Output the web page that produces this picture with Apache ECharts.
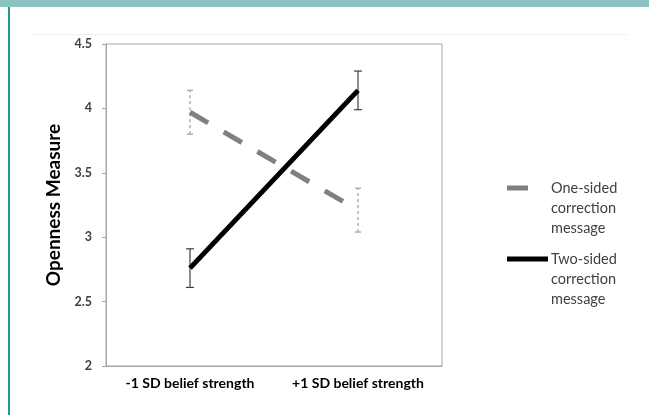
<!DOCTYPE html>
<html>
<head>
<meta charset="utf-8">
<script src="https://cdn.jsdelivr.net/npm/echarts@6/dist/echarts.min.js"></script>
<style>
  html, body { margin: 0; padding: 0; background: #fff; }
  #chart { width: 649px; height: 415px; }
</style>
</head>
<body>
<div id="chart"></div>
<script>
// 数据
const categories = ['-1 SD belief strength', '+1 SD belief strength'];
const yTicks = [2, 2.5, 3, 3.5, 4, 4.5];
const seriesNames = ['One-sided\ncorrection\nmessage', 'Two-sided\ncorrection\nmessage'];
const oneSided = [3.97, 3.21];
const oneSidedErr = [0.17, 0.17];
const twoSided = [2.76, 4.14];
const twoSidedErr = [0.15, 0.15];

const FONT = 'Lato, "Liberation Sans", sans-serif';
const GRAY = '#808080';
const DASH = [21, 18];

// 误差线 (custom series)
const errorBars = (vals, errs, color, width, dash, cap) => ({
  type: 'custom',
  silent: true,
  z: 1,
  data: vals.map((v, i) => [i, v - errs[i], v + errs[i]]),
  renderItem: (params, api) => {
    const lo = api.coord([api.value(0), api.value(1)]);
    const hi = api.coord([api.value(0), api.value(2)]);
    const style = { stroke: color, lineWidth: width, lineDash: dash };
    return {
      type: 'group',
      children: [
        { type: 'line', shape: { x1: lo[0], y1: lo[1], x2: hi[0], y2: hi[1] }, style },
        { type: 'line', shape: { x1: hi[0] - cap, y1: hi[1], x2: hi[0] + cap, y2: hi[1] }, style: { stroke: color, lineWidth: width } },
        { type: 'line', shape: { x1: lo[0] - cap, y1: lo[1], x2: lo[0] + cap, y2: lo[1] }, style: { stroke: color, lineWidth: width } },
      ],
    };
  },
});

// 图例 (graphic)
const legendItem = (y, text, color, len) => ([
  { type: 'line', shape: { x1: 507, y1: y, x2: 507 + len, y2: y }, style: { stroke: color, lineWidth: 5 } },
  {
    type: 'text', x: 551, y: y - 10,
    style: { text, fill: '#404040', font: '14.5px ' + FONT, lineHeight: 20, verticalAlign: 'top' },
  },
]);

const myChart = echarts.init(document.getElementById('chart'));

const option = {
  animation: false,
  textStyle: { fontFamily: FONT },
  graphic: [
    { type: 'rect', shape: { x: 0, y: 0, width: 649, height: 7 }, style: { fill: '#8ac3bf' } },
    { type: 'rect', shape: { x: 8, y: 7, width: 2, height: 408 }, style: { fill: '#1f9a8c' } },
    { type: 'line', shape: { x1: 30, y1: 34.5, x2: 627, y2: 34.5 }, style: { stroke: '#f0f0f0', lineWidth: 1 } },
    ...legendItem(188, seriesNames[0], GRAY, 21),
    ...legendItem(259, seriesNames[1], '#000', 41),
  ],
  grid: {
    left: 106, right: 207, top: 44, bottom: 49,
    show: true, borderColor: '#a6a6a6', borderWidth: 1,
  },
  xAxis: {
    type: 'category',
    data: categories,
    boundaryGap: true,
    axisTick: { show: false },
    axisLine: { lineStyle: { color: '#a6a6a6' } },
    axisLabel: { interval: 0, color: '#000', fontWeight: 'bold', fontSize: 14, margin: 10 },
  },
  yAxis: {
    type: 'value',
    min: yTicks[0], max: yTicks[yTicks.length - 1], interval: 0.5,
    name: 'Openness Measure',
    nameLocation: 'middle',
    nameGap: 42,
    nameTextStyle: { color: '#000', fontWeight: 'bold', fontSize: 19 },
    axisLine: { show: true, lineStyle: { color: '#a6a6a6' } },
    axisTick: { show: true, length: 4, lineStyle: { color: '#a6a6a6' } },
    axisLabel: { color: '#404040', fontWeight: 'bold', fontSize: 12.5, margin: 14 },
    splitLine: { show: false },
  },
  series: [
    errorBars(oneSided, oneSidedErr, '#b0b0b0', 1.5, [3, 3], 3),
    errorBars(twoSided, twoSidedErr, '#404040', 1.2, null, 4),
    {
      type: 'line',
      data: oneSided,
      symbol: 'none',
      z: 3,
      lineStyle: { color: GRAY, width: 5, type: DASH },
    },
    {
      type: 'line',
      data: twoSided,
      symbol: 'none',
      z: 4,
      lineStyle: { color: '#000', width: 5 },
    },
  ],
};

myChart.setOption(option);
window.addEventListener('resize', () => myChart.resize());
</script>
</body>
</html>
